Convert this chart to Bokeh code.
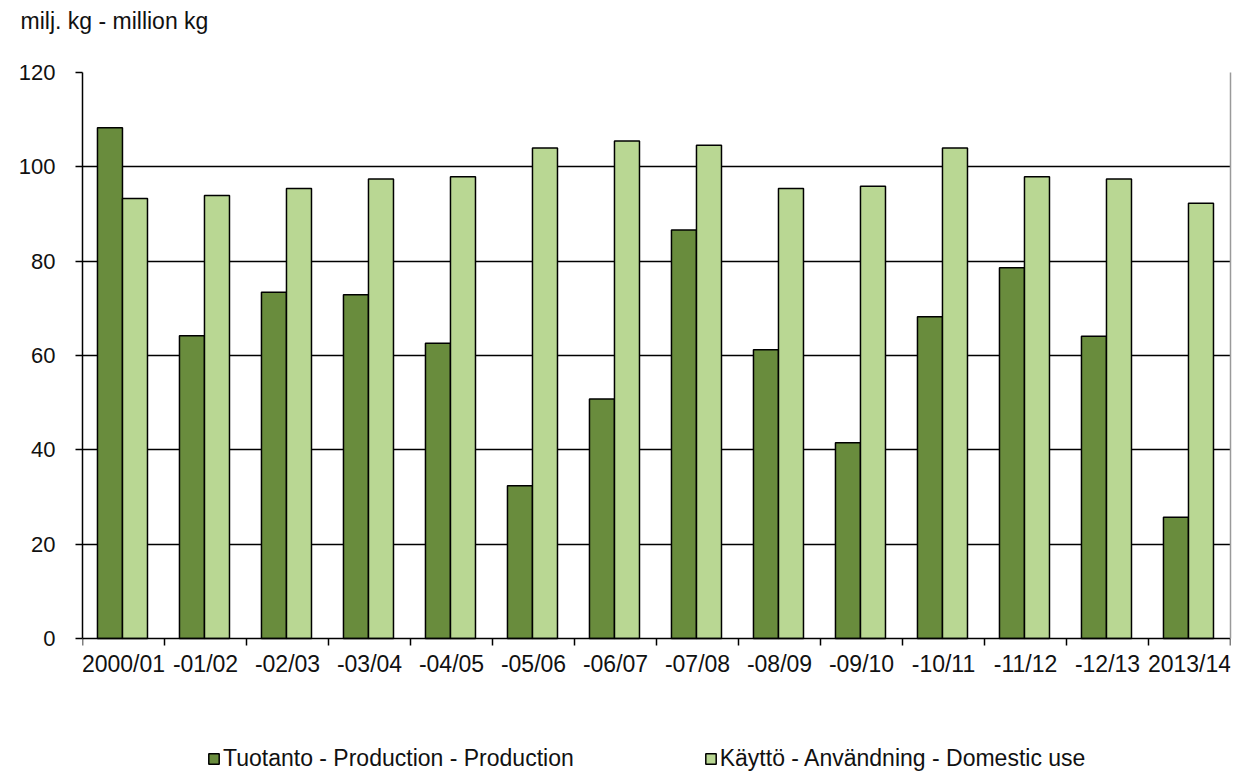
from bokeh.plotting import figure
from bokeh.models import (ColumnDataSource, FixedTicker, Legend, LegendItem, Range1d, Title, LinearAxis)
from bokeh.transform import dodge
from bokeh.embed import file_html
from bokeh.resources import INLINE

periods = ["2000/01", "-01/02", "-02/03", "-03/04", "-04/05", "-05/06", "-06/07",
           "-07/08", "-08/09", "-09/10", "-10/11", "-11/12", "-12/13", "2013/14"]
production = [108.3, 64.2, 73.4, 72.9, 62.6, 32.4, 50.8, 86.6, 61.2, 41.5, 68.2, 78.6, 64.1, 25.7]
domestic_use = [93.3, 93.9, 95.4, 97.4, 97.9, 104.0, 105.5, 104.6, 95.4, 95.9, 104.0, 97.9, 97.4, 92.3]
y_ticks = [0, 20, 40, 60, 80, 100, 120]

FONT = "Liberation Sans"
DARK = "#698C3D"
LIGHT = "#B9D793"

centers = [i + 0.5 for i in range(len(periods))]
bounds = list(range(len(periods) + 1))
src = ColumnDataSource(dict(x=centers, prod=production, use=domestic_use))

# frame extends below zero so the legend can sit inside it; 0 is at 566 px below 120
p = figure(width=1245, height=772, output_backend="svg", toolbar_location=None,
           x_range=Range1d(0, len(periods)), y_range=Range1d(-28.4, 120),
           min_border_left=82, min_border_right=15, min_border_top=72, min_border_bottom=0,
           x_axis_location=None)

r1 = p.vbar(x=dodge("x", -0.165, range=p.x_range), top="prod", width=0.305, source=src,
            fill_color=DARK, line_color="black", line_width=1.5)
r2 = p.vbar(x=dodge("x", 0.14, range=p.x_range), top="use", width=0.305, source=src,
            fill_color=LIGHT, line_color="black", line_width=1.5)

# x axis fixed at y = 0
xa = LinearAxis(fixed_location=0)
xa.ticker = FixedTicker(ticks=centers, minor_ticks=bounds)
xa.major_label_overrides = {c: lab for c, lab in zip(centers, periods)}
xa.major_tick_out = 0
xa.major_tick_in = 0
xa.minor_tick_out = 7
xa.minor_tick_in = 0
xa.minor_tick_line_color = "black"
xa.minor_tick_line_width = 1.5
xa.axis_line_color = "black"
xa.axis_line_width = 1.5
xa.major_label_text_font = FONT
xa.major_label_text_font_size = "23px"
xa.major_label_text_color = "#111111"
xa.major_label_standoff = 5
p.add_layout(xa, "below")

ya = p.yaxis[0]
ya.ticker = FixedTicker(ticks=y_ticks)
ya.bounds = (0, 120)
ya.major_tick_out = 7
ya.major_tick_in = 0
ya.minor_tick_out = 0
ya.minor_tick_in = 0
ya.major_tick_line_color = "black"
ya.major_tick_line_width = 1.5
ya.axis_line_color = "black"
ya.axis_line_width = 1.5
ya.major_label_text_font = FONT
ya.major_label_text_font_size = "22px"
ya.major_label_text_color = "#111111"
ya.major_label_standoff = 20

# grey right border of the plot area
ra = LinearAxis(bounds=(0, 120), ticker=FixedTicker(ticks=[]), axis_line_color="#9a9a9a",
                axis_line_width=1.5, major_tick_line_color=None, minor_tick_line_color=None,
                major_label_text_font_size="0px")
p.add_layout(ra, "right")

p.xgrid.visible = False
p.ygrid.ticker = FixedTicker(ticks=y_ticks[1:])
p.ygrid.grid_line_color = "black"
p.ygrid.grid_line_width = 1.5
p.outline_line_color = None
p.background_fill_color = "white"
p.border_fill_color = "white"

# real title on top, blank spacer between it and the frame
p.title = Title(text="milj.  kg - million  kg", align="left", offset=-62,
                text_font=FONT, text_font_size="23px", text_font_style="normal",
                text_color="#111111", standoff=10)
p.add_layout(Title(text=" ", text_font=FONT, text_font_size="22px", standoff=7), "above")

legend = Legend(items=[LegendItem(label="Tuotanto - Production - Production", renderers=[r1]),
                       LegendItem(label="Käyttö - Användning - Domestic use", renderers=[r2])],
                orientation="horizontal", location=(125, 0),
                label_text_font=FONT, label_text_font_size="23px", label_text_color="#111111",
                glyph_width=13, glyph_height=13, spacing=130, label_standoff=3,
                border_line_color=None, background_fill_color=None, margin=0, padding=0)
p.add_layout(legend, "center")

open("out.html", "w").write(file_html(p, INLINE))
